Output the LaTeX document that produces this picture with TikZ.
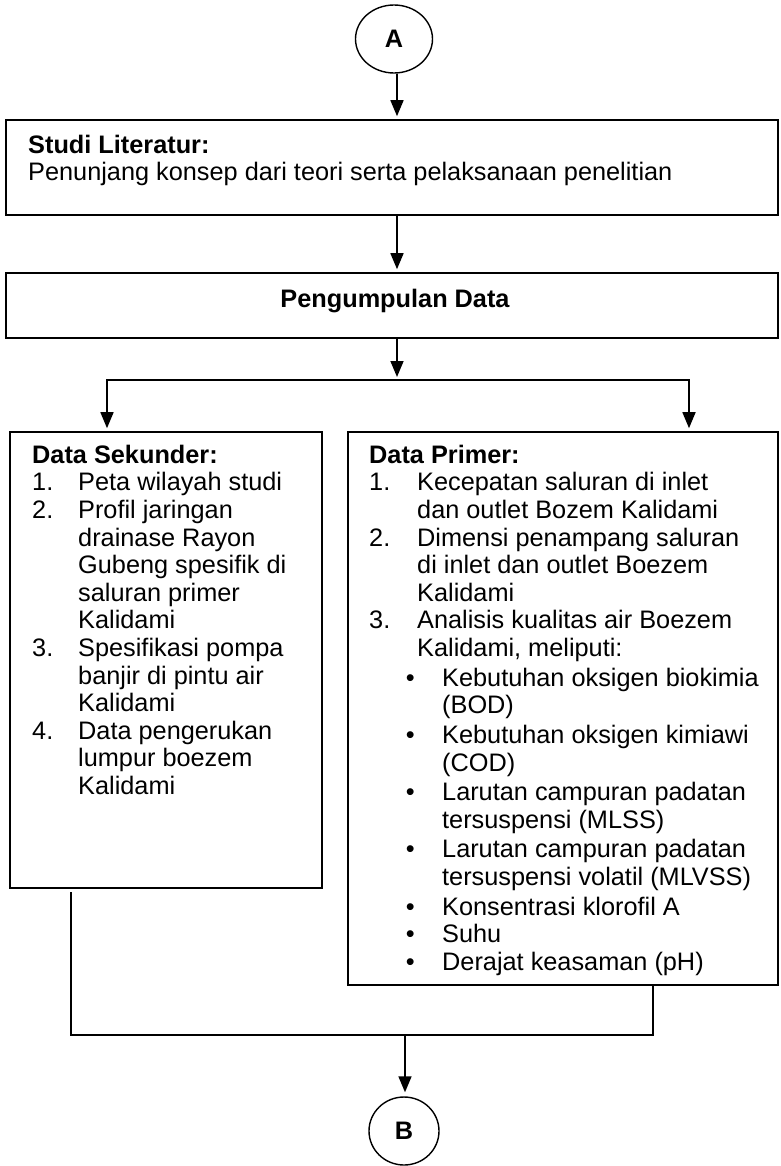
\documentclass[tikz,border=0pt]{standalone}
\usepackage{fontspec}
\setmainfont{Liberation Sans}
\usetikzlibrary{arrows.meta,shapes.geometric}

% list helpers: a number or bullet set in a fixed-width slot, and a hanging indent
\newcommand\itemno[2]{\makebox[#1][l]{#2}}
\newcommand\indentby[1]{\hspace*{#1}}
\newcommand\bul{\makebox[73pt][l]{\hspace*{36.6pt}\textbullet}}
\newcommand\firstline{\rule{0pt}{20pt}}

\begin{document}
\begin{tikzpicture}[x=1pt,y=-1pt,
  every node/.style={font=\fontsize{25.3}{27.6}\selectfont},
  box/.style={draw, rectangle, line width=1.6pt, inner sep=0pt},
  conn/.style={draw, line width=1.6pt, line cap=rect},
  arr/.style={draw, line width=1.6pt, -{Triangle[length=16pt,width=13pt]}, shorten >=3pt},
  listtext/.style={inner sep=0pt, align=left, anchor=north west},
  term/.style={draw, ellipse, line width=1.4pt, inner sep=0pt,
    font=\fontsize{25.3}{27.6}\selectfont\bfseries}]
\useasboundingbox (0,0) rectangle (780,1166);

% connector terminals
\node[term, minimum width=77pt, minimum height=68pt] (A) at (394,39) {A};
\node[term, minimum width=70pt, minimum height=68pt] (B) at (404,1131) {B};

% process boxes
\node[box, minimum width=772pt, minimum height=95pt] (lit) at (392,167.5) {};
\node[box, minimum width=772pt, minimum height=65pt] (peng) at (392,305.5) {};
\node[box, minimum width=312pt, minimum height=456pt] (sek) at (166,660) {};
\node[box, minimum width=430pt, minimum height=553pt] (prim) at (563,708.5) {};

% box texts
\node[listtext] (litText) at (28,133) {\firstline{\bfseries Studi Literatur:}\\
Penunjang konsep dari teori serta pelaksanaan penelitian};

\node[anchor=base, inner sep=0pt] (pengText) at (395,307) {\bfseries Pengumpulan Data};

\node[listtext] (sekText) at (32,443) {\firstline{\bfseries Data Sekunder:}\\
\itemno{46pt}{1.}Peta wilayah studi\\
\itemno{46pt}{2.}Profil jaringan\\
\indentby{46pt}drainase Rayon\\
\indentby{46pt}Gubeng spesifik di\\
\indentby{46pt}saluran primer\\
\indentby{46pt}Kalidami\\
\itemno{46pt}{3.}Spesifikasi pompa\\
\indentby{46pt}banjir di pintu air\\
\indentby{46pt}Kalidami\\
\itemno{46pt}{4.}Data pengerukan\\
\indentby{46pt}lumpur boezem\\
\indentby{46pt}Kalidami};

\node[listtext] (primText) at (369,443) {\firstline{\bfseries Data Primer:}\\
\itemno{48pt}{1.}Kecepatan saluran di inlet\\
\indentby{48pt}dan outlet Bozem Kalidami\\
\itemno{48pt}{2.}Dimensi penampang saluran\\
\indentby{48pt}di inlet dan outlet Boezem\\
\indentby{48pt}Kalidami\\
\itemno{48pt}{3.}Analisis kualitas air Boezem\\
\indentby{48pt}Kalidami, meliputi:\\[2.2pt]
\bul Kebutuhan oksigen biokimia\\
\indentby{73pt}(BOD)\\[2pt]
\bul Kebutuhan oksigen kimiawi\\
\indentby{73pt}(COD)\\[2pt]
\bul Larutan campuran padatan\\
\indentby{73pt}tersuspensi (MLSS)\\[2pt]
\bul Larutan campuran padatan\\
\indentby{73pt}tersuspensi volatil (MLVSS)\\[2pt]
\bul Konsentrasi klorofil A\\
\bul Suhu\\
\bul Derajat keasaman (pH)};

% connectors
\coordinate (colA) at (397,0);
\coordinate (split) at (397,380);
\coordinate (jl) at (107,380);
\coordinate (jr) at (689,380);
\coordinate (ml) at (71,1035);
\coordinate (mr) at (653,1035);
\coordinate (mid) at (405,1035);

\draw[arr] (A.south -| colA) -- (lit.north -| colA);
\draw[arr] (lit.south -| colA) -- (peng.north -| colA);
\draw[arr] (peng.south -| split) -- (split);
\draw[conn] (jl) -- (jr);
\draw[arr] (jl) -- (jl |- sek.north);
\draw[arr] (jr) -- (jr |- prim.north);
\draw[conn, shorten <=4pt] (sek.south -| ml) -- (ml) -- (mr) -- (prim.south -| mr);
\draw[arr, shorten >=4pt] (mid) -- (B.north -| mid);
\end{tikzpicture}
\end{document}
